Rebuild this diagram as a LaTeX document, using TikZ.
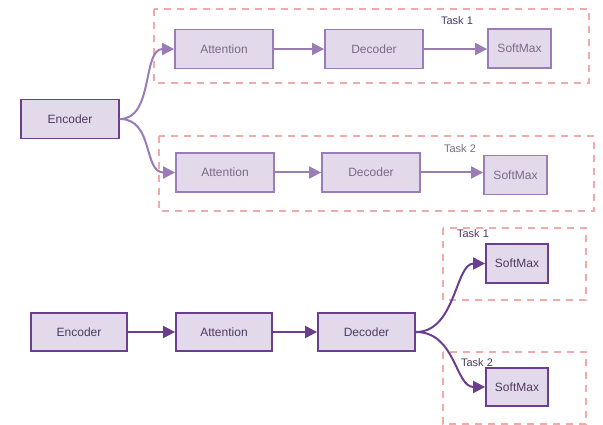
\documentclass[tikz,border=0pt]{standalone}
\usepackage{fontspec}
\setmainfont{Liberation Sans}
\usetikzlibrary{arrows.meta}
\definecolor{boxfill}{HTML}{E2DAEA}
\definecolor{darkline}{HTML}{6B3F8E}
\definecolor{lightline}{HTML}{9A7CB6}
\definecolor{darktext}{HTML}{4E3A60}
\definecolor{lighttext}{HTML}{7A6A88}
\definecolor{taskline}{HTML}{F2A9A9}
\begin{document}
\begin{tikzpicture}[x=1pt,y=-1pt,
  box/.style={draw, line width=1.8pt, fill=boxfill, minimum height=39pt,
    inner sep=0pt, font=\fontsize{12}{14}\selectfont},
  darkbox/.style={box, draw=darkline, text=darktext},
  lightbox/.style={box, draw=lightline, text=lighttext},
  link/.style={line width=2pt, -{Triangle[length=12pt,width=12pt]}},
  darklink/.style={link, draw=darkline},
  lightlink/.style={link, draw=lightline},
  taskbox/.style={draw=taskline, line width=2pt, dash pattern=on 7pt off 6pt},
  tasklabel/.style={font=\fontsize{11}{13}\selectfont, text=darktext}]
\useasboundingbox (0,0) rectangle (603,425);

% ---- multi-task model with separate attention and decoder ----
\draw[taskbox] (154,9) rectangle (589,83);
\node[tasklabel] (t1a) at (457,21) {Task 1};
\draw[taskbox] (159,136) rectangle (594,211);
\node[tasklabel, text=lighttext] (t2a) at (460,149) {Task 2};

\node[darkbox, minimum width=98pt] (enc) at (70,119) {Encoder};
\node[lightbox, minimum width=98pt] (att1) at (224,49) {Attention};
\node[lightbox, minimum width=98pt] (dec1) at (374,49) {Decoder};
\node[lightbox, minimum width=63pt] (sm1) at (519.5,48.5) {SoftMax};
\node[lightbox, minimum width=98pt] (att2) at (225,172.5) {Attention};
\node[lightbox, minimum width=98pt] (dec2) at (371,172.5) {Decoder};
\node[lightbox, minimum width=63pt] (sm2) at (515.5,175) {SoftMax};

\draw[lightlink] (enc.east) .. controls +(34,0) and +(-32,0) .. (att1.west);
\draw[lightlink] (enc.east) .. controls +(34,0) and +(-32,0) .. (att2.west);
\draw[lightlink] (att1) -- (dec1);
\draw[lightlink] (dec1.east) -- (sm1.west |- dec1.east);
\draw[lightlink] (att2) -- (dec2);
\draw[lightlink] (dec2.east) -- (sm2.west |- dec2.east);

% ---- multi-task model with shared decoder ----
\draw[taskbox] (443,228) rectangle (586,300);
\node[tasklabel] (t1b) at (473,234) {Task 1};
\draw[taskbox] (443,352) rectangle (586,424);
\node[tasklabel] (t2b) at (477,363) {Task 2};

\node[darkbox, minimum width=96pt, minimum height=38pt] (encb) at (79,332) {Encoder};
\node[darkbox, minimum width=96pt, minimum height=38pt] (attb) at (224,332) {Attention};
\node[darkbox, minimum width=97pt, minimum height=38pt] (decb) at (366.5,332) {Decoder};
\node[darkbox, minimum width=62pt, minimum height=39pt] (smb1) at (517,263.5) {SoftMax};
\node[darkbox, minimum width=62pt, minimum height=38pt] (smb2) at (517,387) {SoftMax};

\draw[darklink] (encb) -- (attb);
\draw[darklink] (attb) -- (decb);
\draw[darklink] (decb.east) .. controls +(40,0) and +(-30,0) .. (smb1.west);
\draw[darklink] (decb.east) .. controls +(40,0) and +(-30,0) .. (smb2.west);
\end{tikzpicture}
\end{document}
